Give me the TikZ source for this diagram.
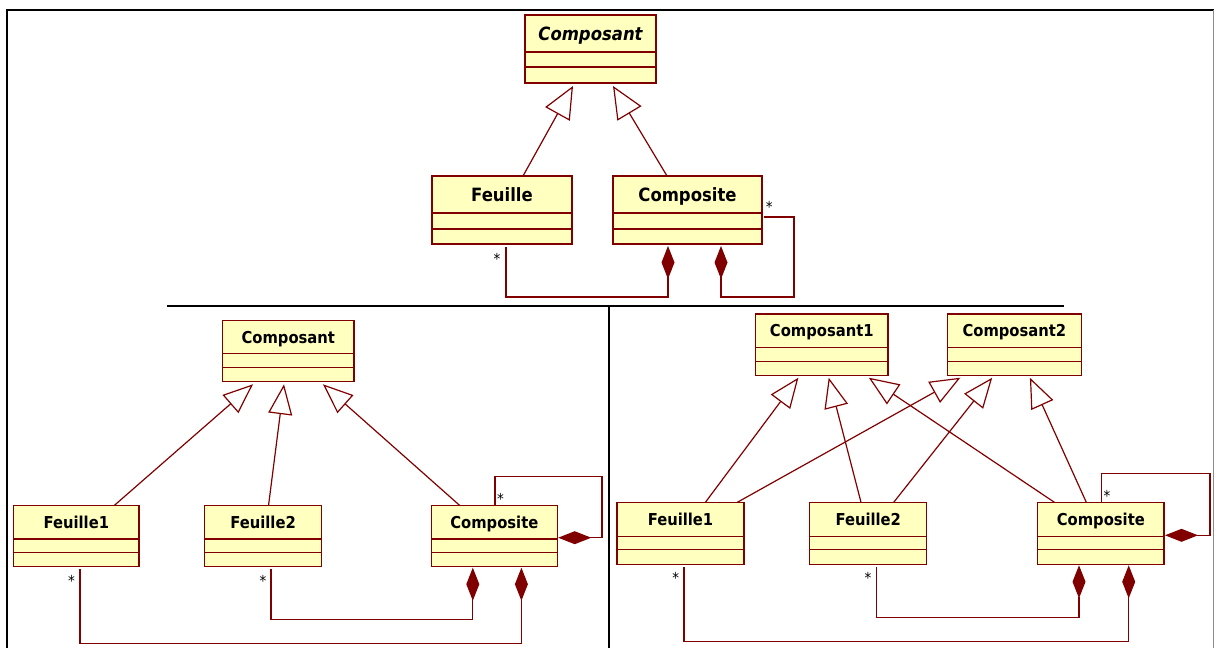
\documentclass[tikz,border=0pt]{standalone}
\usepackage{fontspec}
\setmainfont{DejaVu Sans}[FakeStretch=0.9]
\usetikzlibrary{arrows.meta,calc}
\definecolor{umlred}{RGB}{128,0,0}
\definecolor{umlfill}{RGB}{255,255,192}
\newcommand\tfont{\fontsize{18.3}{22}\selectfont\bfseries}
\newcommand\bfont{\fontsize{16.4}{20}\selectfont\bfseries}
\newcommand\umlcls[9]{%
  \node[cls, minimum width={(#4-#2)*1pt}, minimum height={(#5-#3)*1pt}] (#1) at ({(#2+#4)/2},{(#3+#5)/2}) {};
  \draw[clsline] (#1.west |- 0,#6) -- (#1.east |- 0,#6);
  \draw[clsline] (#1.west |- 0,#7) -- (#1.east |- 0,#7);
  \node[anchor=base, inner sep=0pt] (#1-t) at ({(#2+#4)/2},{(#3+#6)/2+#9}) {#8};
}
\tikzset{
  cls/.style={draw=umlred, fill=umlfill, line width=1.3pt, inner sep=0pt, outer sep=0pt},
  clsline/.style={draw=umlred, line width=1.2pt},
  conn/.style={draw=umlred, line width=1.2pt, line join=miter},
  genT/.style={conn, -{Triangle[open, fill=white, length=32pt, width=28pt]}},
  genB/.style={conn, -{Triangle[open, fill=white, length=30pt, width=24pt]}},
  comp/.style={conn, {Diamond[length=33pt, width=13pt, fill=umlred]}-},
  mult/.style={font=\fontsize{15}{15}\selectfont, inner sep=0pt, anchor=north},
  frame/.style={draw=black, line width=2pt},
}
\begin{document}
\begin{tikzpicture}[x=1pt, y=-1pt]
\path[use as bounding box, fill=white] (0,0) rectangle (1214,648);
% frame
\draw[frame] (7,648) -- (7,9.5) -- (1214,9.5);
\draw[draw=black!45, line width=1pt] (1213,9.5) -- (1213,648);
\draw[draw=black, line width=1.5pt] (167,306) -- (1064,306);
\draw[draw=black, line width=1.5pt] (609,306) -- (609,648);

% ---- top ----
\umlcls{tC}{525}{15}{656}{83}{52}{67}{\tfont\itshape Composant}{6.7}
\umlcls{tF}{432}{176}{572}{244}{213}{229}{\tfont Feuille}{6.7}
\umlcls{tK}{613}{176}{762}{244}{213}{229}{\tfont Composite}{6.7}
\draw[genT] ($(tF.north west)+(91,0)$) -- ($(tC.south west)+(48,3)$);
\draw[genT] ($(tK.north west)+(54,0)$) -- ($(tC.south west)+(88,3)$);
\draw[comp] ($(tK.south west)+(55,2)$) -- ($(tK.south west)+(55,53)$) -| ($(tF.south west)+(74,3)$);
\draw[comp] ($(tK.south west)+(108,2)$) -- ($(tK.south west)+(108,53)$) -- ($(tK.south east)+(32,53)$) -- ($(tK.north east)+(32,41)$) -- ($(tK.north east)+(2,41)$);
\node[mult] (m1) at (497,253) {*};
\node[mult] (m2) at (769.3,201) {*};

% ---- bottom left ----
\umlcls{lC}{222.6}{320.7}{354}{381.3}{353.7}{367.3}{\bfont Composant}{5.9}
\umlcls{lF1}{13.6}{505.7}{139}{566.7}{539}{552.7}{\bfont Feuille1}{5.9}
\umlcls{lF2}{204.7}{505.7}{321.4}{566.7}{539}{552.7}{\bfont Feuille2}{5.9}
\umlcls{lK}{431.5}{505.7}{557.2}{566.7}{539}{552.7}{\bfont Composite}{5.9}
\draw[genB] ($(lF1.north west)+(100.4,0)$) -- ($(lC.south west)+(30.4,3)$);
\draw[genB] ($(lF2.north west)+(63.8,0)$) -- ($(lC.south west)+(61.4,3)$);
\draw[genB] ($(lK.north west)+(28.5,0)$) -- ($(lC.south west)+(100.4,3)$);
\draw[comp] ($(lK.south west)+(41.3,1)$) -- ($(lK.south west)+(41.3,52.6)$) -| ($(lF2.south west)+(66.3,2.3)$);
\draw[comp] ($(lK.south west)+(89.9,1)$) -- ($(lK.south west)+(89.9,76.6)$) -| ($(lF1.south west)+(66.4,2.3)$);
\draw[comp] ($(lK.north east)+(1,32)$) -- ($(lK.north east)+(44.8,32)$) -- ($(lK.north east)+(44.8,-29.4)$) -- ($(lK.north west)+(63.5,-29.4)$) -- ($(lK.north west)+(63.5,0)$);
\node[mult] (m3) at (71.6,575) {*};
\node[mult] (m4) at (263,575) {*};
\node[mult] (m5) at (500.4,493) {*};

% ---- bottom right ----
\umlcls{rC1}{755.6}{314}{888}{375.7}{347.7}{361.3}{\bfont Composant1}{5.9}
\umlcls{rC2}{947.4}{314}{1081.3}{375.7}{347.7}{361.3}{\bfont Composant2}{5.9}
\umlcls{rF1}{617}{502.3}{744}{564.3}{536.3}{549.7}{\bfont Feuille1}{5.9}
\umlcls{rF2}{809.7}{502.3}{926.8}{564.3}{536.3}{549.7}{\bfont Feuille2}{5.9}
\umlcls{rK}{1037.7}{502.3}{1164}{564.3}{536.3}{549.7}{\bfont Composite}{5.9}
\draw[genB] ($(rF1.north west)+(88.4,0)$) -- ($(rC1.south west)+(42.8,2)$);
\draw[genB] ($(rF2.north west)+(51.3,0)$) -- ($(rC1.south west)+(73.1,2)$);
\draw[genB] ($(rK.north west)+(16.7,0)$) -- ($(rC1.south west)+(113.2,2)$);
\draw[genB] ($(rF1.north west)+(120.3,0)$) -- ($(rC2.south west)+(12.9,2)$);
\draw[genB] ($(rF2.north west)+(84,0)$) -- ($(rC2.south west)+(44.8,2)$);
\draw[genB] ($(rK.north west)+(48.6,0)$) -- ($(rC2.south west)+(82.5,2)$);
\draw[comp] ($(rK.south west)+(41.3,1)$) -- ($(rK.south west)+(41.3,53)$) -| ($(rF2.south west)+(66.5,2.4)$);
\draw[comp] ($(rK.south west)+(91,1)$) -- ($(rK.south west)+(91,77)$) -| ($(rF1.south west)+(67,2.4)$);
\draw[comp] ($(rK.north east)+(1,33)$) -- ($(rK.north east)+(46,33)$) -- ($(rK.north east)+(46,-28.6)$) -- ($(rK.north west)+(63.8,-28.6)$) -- ($(rK.north west)+(63.8,0)$);
\node[mult] (m6) at (675.8,572) {*};
\node[mult] (m7) at (868,572) {*};
\node[mult] (m8) at (1107,490) {*};
\end{tikzpicture}
\end{document}
